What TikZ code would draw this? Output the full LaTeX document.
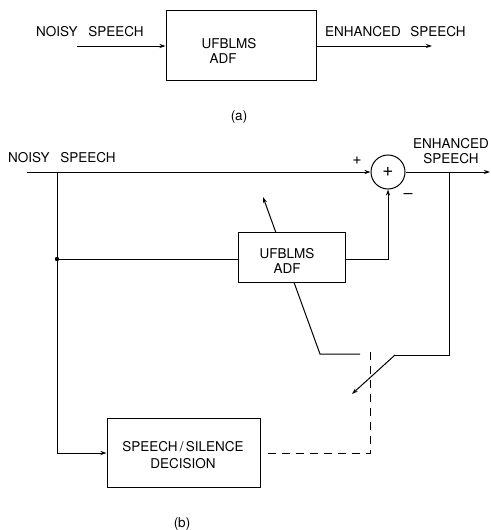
\documentclass[tikz,border=0pt]{standalone}
\usepackage{fontspec}
\setmainfont{TeX Gyre Heros}
\usetikzlibrary{arrows.meta}
\begin{document}
\begin{tikzpicture}[x=1pt,y=-1pt,
  every node/.style={font=\fontsize{13.5}{15.5}\selectfont},
  ln/.style={line width=1pt},
  arr/.style={ln,-{Stealth[length=6pt,width=4pt]}},
  blk/.style={draw,line width=1pt,fill=white,inner sep=0pt,align=center},
  lbl/.style={inner sep=0pt}]
\useasboundingbox (0,0) rectangle (490,530);
% ---------- (a)
\node[blk,minimum width=150pt,minimum height=70pt] (adfa) at (241,45) {};
\node[lbl,align=left] at (229,51) {UFBLMS\\[-1pt]\hspace*{8pt}ADF};
\coordinate (ina) at (77,46);
\coordinate (outa) at (432,46);
\draw[arr] (ina) -- (ina -| adfa.west);
\draw[arr] (outa -| adfa.east) -- (outa);
\node[lbl,anchor=west] (nsa) at (36,32) {NOISY\hspace{0.8em}SPEECH};
\node[lbl,anchor=west] (esa) at (325,32) {ENHANCED\hspace{0.7em}SPEECH};
\node[lbl] (capa) at (239,117) {(a)};
% ---------- (b)
\node[blk,minimum width=107pt,minimum height=50pt] (adfb) at (291.5,257) {};
\node[draw,circle,line width=1pt,minimum size=34pt,inner sep=0pt] (sum) at (388,172) {};
\node[lbl,font=\fontsize{19}{19}\selectfont] at (sum) {+};
\node[blk,minimum width=153pt,minimum height=69pt] (ssd) at (183.5,452.5) {};
\coordinate (in) at (27,172);
\coordinate (out) at (490,172);
\coordinate (tapL) at (57,172);
\coordinate (dot) at (57,259);
\coordinate (corn) at (57,453);
\coordinate (tapR) at (449,172);
\coordinate (rb) at (449,355);
\coordinate (sw1) at (395,355);
\coordinate (sw2) at (352,394);
\coordinate (ad1) at (360,354);
\coordinate (ad2) at (320,354);
\coordinate (ad3) at (263,197);
\coordinate (dtop) at (370,350);
\coordinate (dbot) at (370,453);
\coordinate (bo) at (388,259);
% adaptation arrow (behind box)
\draw[arr] (ad1) -- (ad2) -- (ad3);
\node[blk,minimum width=107pt,minimum height=50pt] at (adfb) {};
\node[lbl,align=center] at (287,261) {UFBLMS\\[-1pt]ADF};
% main path
\draw[arr] (in) -- (sum.west);
\draw[arr] (sum.east) -- (out);
\draw[ln] (tapL) -- (corn);
\draw[arr] (corn) -- (corn -| ssd.west);
\fill (dot) circle (2.2pt);
\draw[ln] (dot) -- (dot -| adfb.west);
\draw[arr] (adfb.east |- bo) -- (bo) -- (sum.south);
% switch
\draw[ln] (tapR) -- (rb) -- (sw1);
\draw[arr] (sw1) -- (sw2);
% dashed control
\draw[ln,dash pattern=on 8pt off 6pt] (ssd.east |- dbot) ++(7,0) -- (dbot) -- (dtop);
% labels
\node[lbl,anchor=west] at (8,158) {NOISY\hspace{0.8em}SPEECH};
\node[lbl,align=center] at (451,151) {ENHANCED\\[-1pt]SPEECH};
\node[lbl,font=\fontsize{16}{16}\selectfont] at (357,161) {+};
\node[lbl,font=\fontsize{16}{16}\selectfont] at (408,196) {--};
\node[lbl,align=center] at (183,455) {SPEECH\,/\,SILENCE\\[1pt]DECISION};
\node[lbl] at (182,524) {(b)};
\end{tikzpicture}
\end{document}
